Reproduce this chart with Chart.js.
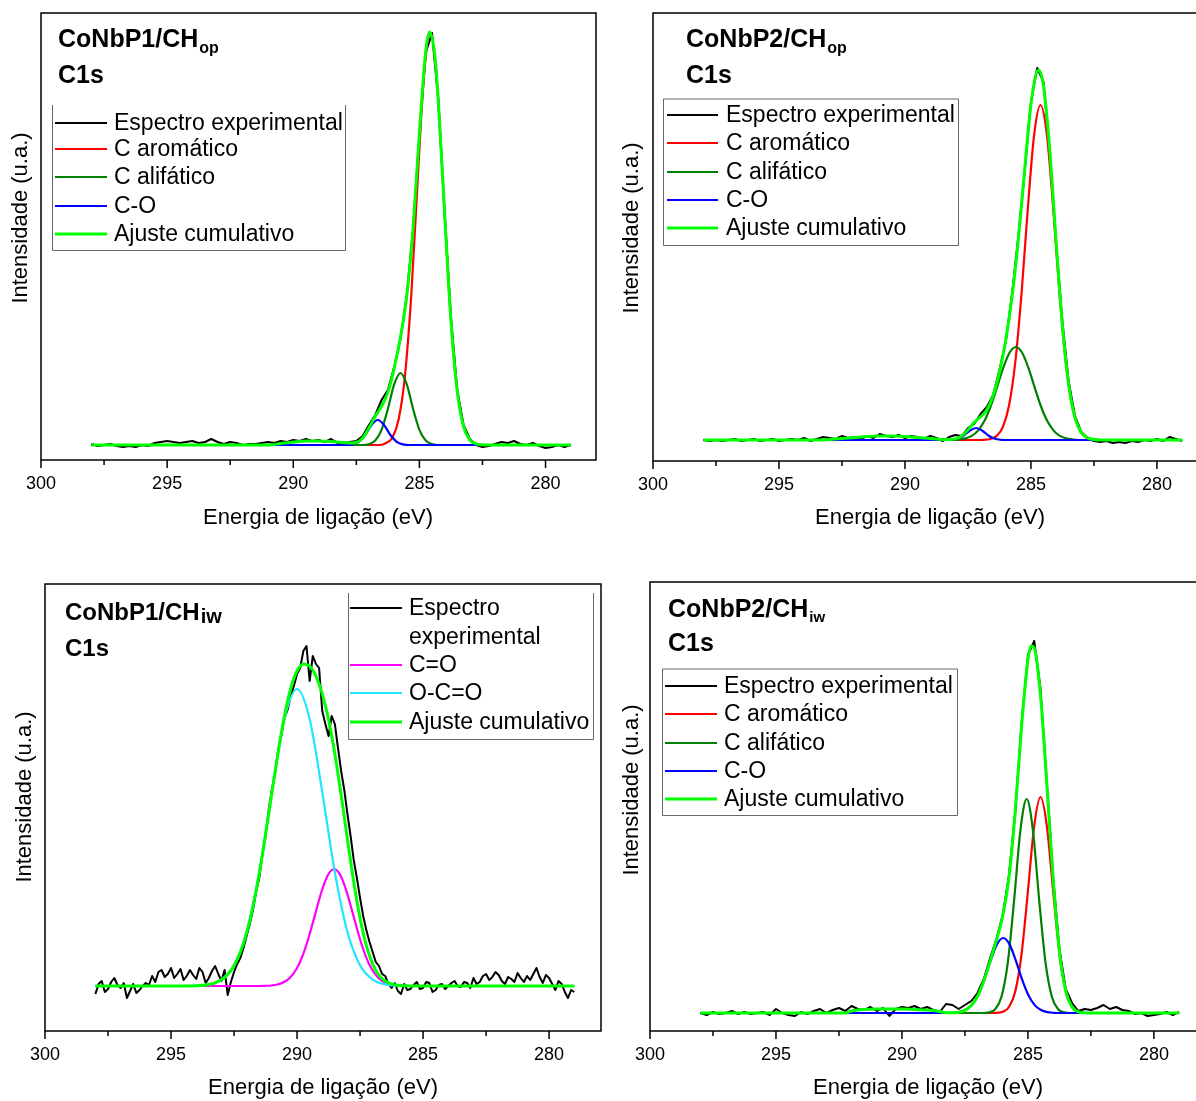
<!DOCTYPE html>
<html lang="pt">
<head>
<meta charset="utf-8">
<title>C1s XPS</title>
<script src="https://cdn.jsdelivr.net/npm/chart.js@4.4.1/dist/chart.umd.min.js"></script>
<style>
  html, body { margin: 0; padding: 0; background: #fff; }
  body { width: 1196px; height: 1101px; position: relative; overflow: hidden; }
  canvas { position: absolute; }
</style>
</head>
<body>
<canvas id="p1" width="600" height="545" style="left:0px;top:0px"></canvas>
<canvas id="p2" width="600" height="545" style="left:610px;top:0px"></canvas>
<canvas id="p3" width="610" height="541" style="left:0px;top:560px"></canvas>
<canvas id="p4" width="600" height="541" style="left:610px;top:560px"></canvas>
<script>
// binding energy grid of the measured spectra (eV)
const energy = [298, 297.75, 297.5, 297.25, 297, 296.75, 296.5, 296.25, 296, 295.75, 295.5, 295.25, 295, 294.75, 294.5, 294.25,
  294, 293.75, 293.5, 293.25, 293, 292.75, 292.5, 292.25, 292, 291.75, 291.5, 291.25, 291, 290.75, 290.5, 290.25,
  290, 289.75, 289.5, 289.25, 289, 288.75, 288.5, 288.25, 288, 287.75, 287.5, 287.25, 287, 286.75, 286.5, 286.25,
  286, 285.75, 285.5, 285.25, 285, 284.75, 284.5, 284.25, 284, 283.75, 283.5, 283.25, 283, 282.75, 282.5, 282.25,
  282, 281.75, 281.5, 281.25, 281, 280.75, 280.5, 280.25, 280, 279.75, 279.5, 279.25, 279];

// finer grid for the noisier CHiw spectrum
const energyFine = [298, 297.875, 297.75, 297.625, 297.5, 297.375, 297.25, 297.125, 297, 296.875, 296.75, 296.625, 296.5, 296.375, 296.25, 296.125,
  296, 295.875, 295.75, 295.625, 295.5, 295.375, 295.25, 295.125, 295, 294.875, 294.75, 294.625, 294.5, 294.375, 294.25, 294.125,
  294, 293.875, 293.75, 293.625, 293.5, 293.375, 293.25, 293.125, 293, 292.875, 292.75, 292.625, 292.5, 292.375, 292.25, 292.125,
  292, 291.875, 291.75, 291.625, 291.5, 291.375, 291.25, 291.125, 291, 290.875, 290.75, 290.625, 290.5, 290.375, 290.25, 290.125,
  290, 289.875, 289.75, 289.625, 289.5, 289.375, 289.25, 289.125, 289, 288.875, 288.75, 288.625, 288.5, 288.375, 288.25, 288.125,
  288, 287.875, 287.75, 287.625, 287.5, 287.375, 287.25, 287.125, 287, 286.875, 286.75, 286.625, 286.5, 286.375, 286.25, 286.125,
  286, 285.875, 285.75, 285.625, 285.5, 285.375, 285.25, 285.125, 285, 284.875, 284.75, 284.625, 284.5, 284.375, 284.25, 284.125,
  284, 283.875, 283.75, 283.625, 283.5, 283.375, 283.25, 283.125, 283, 282.875, 282.75, 282.625, 282.5, 282.375, 282.25, 282.125,
  282, 281.875, 281.75, 281.625, 281.5, 281.375, 281.25, 281.125, 281, 280.875, 280.75, 280.625, 280.5, 280.375, 280.25, 280.125,
  280, 279.875, 279.75, 279.625, 279.5, 279.375, 279.25, 279.125, 279];

const xTicks = [280, 282.5, 285, 287.5, 290, 292.5, 295, 297.5, 300];

// CoNbP1/CHop
const p1Exp = [1, -1, 0, 1, -1, -2, -1, -2, 0, -1, 2, 3, 4, 3, 2, 3,
  4, 2, 3, 6, 3, 1, 3, 2, 0, 1, 1, 2, 3, 2, 4, 3,
  5, 4, 6, 4, 5, 3, 6, 2, 1, 3, 4, 9, 20, 30, 45, 55,
  78, 106, 150, 216, 310, 392, 412, 345, 232, 128, 55, 20, 6, 0, -2, -1,
  1, 3, 2, 4, 1, 0, 2, -1, -3, -2, 0, -2, 0];
const p1Arom = [[298, 0], [286.57, 0], [286.32, 2], [286.07, 7.5], [285.82, 26], [285.57, 70], [285.32, 151], [285.07, 264], [284.82, 369],
  [284.57, 412], [284.32, 369], [284.07, 264], [283.82, 151], [283.57, 70], [283.32, 26], [283.07, 7.5], [282.82, 2], [282.57, 0], [279, 0]];
const p1Alif = [[298, 0], [287.25, 0], [287, 0.9], [286.75, 4.5], [286.5, 15.2], [286.25, 36], [286, 60.6], [285.75, 72],
  [285.5, 60.6], [285.25, 36], [285, 15.2], [284.75, 4.5], [284.5, 0.9], [284.25, 0], [279, 0]];
const p1CO = [[298, 0], [287.9, 0], [287.65, 0.6], [287.4, 3.2], [287.15, 10], [286.9, 19.9], [286.65, 25],
  [286.4, 19.9], [286.15, 10], [285.9, 3.2], [285.65, 0.6], [285.4, 0], [279, 0]];
const p1Sum = [[298, 0], [291, 0], [290.5, 1.5], [290, 3], [289.5, 4], [289, 4], [288.5, 3.5], [288, 2.5], [287.75, 2], [287.5, 2.5],
  [287.25, 7], [287, 17], [286.75, 28.7], [286.5, 38.7], [286.25, 52.6], [286, 76.7], [285.75, 107.9], [285.5, 149.2], [285.25, 217],
  [285, 311.7], [284.75, 393.5], [284.6, 413], [284.4, 392], [284.25, 343.4], [284, 231], [283.75, 124.4], [283.5, 53.6], [283.25, 18.5],
  [283, 5.1], [282.75, 1.1], [282.5, 0.2], [282.25, 0], [279, 0]];

// CoNbP2/CHop
const p2Exp = [0, -1, 0, -1, 0, 1, -1, 0, 1, -1, 0, 1, -1, 0, 1, 0,
  2, -1, 1, 3, 2, 1, 4, 2, 3, 1, 4, 2, 6, 4, 3, 5,
  2, 4, 3, 1, 4, 2, -1, 3, 5, 4, 12, 16, 26, 33, 45, 70,
  98, 146, 204, 268, 338, 372, 358, 285, 196, 118, 58, 24, 8, 2, -1, -2,
  -1, -3, -2, -3, -1, -2, 0, -1, 1, -1, 3, 1, -1];
const p2Arom = [[298, 0], [287.12, 0], [286.87, 0.2], [286.62, 1], [286.37, 3.9], [286.12, 12.7], [285.87, 34.5], [285.62, 78.1],
  [285.37, 147.7], [285.12, 232.8], [284.87, 305.8], [284.62, 335], [284.37, 305.8], [284.12, 232.8], [283.87, 147.7], [283.62, 78.1],
  [283.37, 34.5], [283.12, 12.7], [282.87, 3.9], [282.62, 1], [282.37, 0.2], [282.12, 0], [279, 0]];
const p2Alif = [[298, 0], [288.1, 0], [287.85, 0.5], [287.6, 1.6], [287.35, 4.1], [287.1, 9.4], [286.85, 18.9], [286.6, 33.5],
  [286.35, 52.4], [286.1, 72.1], [285.85, 87.2], [285.6, 93], [285.35, 87.2], [285.1, 72.1], [284.85, 52.4], [284.6, 33.5],
  [284.35, 18.9], [284.1, 9.4], [283.85, 4.1], [283.6, 1.6], [283.35, 0.5], [283.1, 0], [279, 0]];
const p2CO = [[298, 0], [288.43, 0], [288.18, 0.2], [287.93, 1.2], [287.68, 4.3], [287.43, 9.3], [287.18, 12],
  [286.93, 9.3], [286.68, 4.3], [286.43, 1.2], [286.18, 0.2], [285.93, 0], [279, 0]];
const p2Sum = [[298, 0], [293.5, 0], [293, 0.5], [292.5, 1.5], [292, 2.5], [291.5, 3.5], [291, 4], [290.5, 4], [290, 3.5], [289.5, 2.5],
  [289, 1.5], [288.5, 0.6], [288.25, 0.5], [288, 1.1], [287.75, 4], [287.5, 10.2], [287.25, 17.6], [287, 23.2], [286.75, 30.2],
  [286.5, 44.5], [286.25, 67.8], [286, 100], [285.75, 143.2], [285.5, 200.6], [285.25, 270], [285, 335.8], [284.7, 370], [284.5, 354],
  [284.25, 289], [284, 198.2], [283.75, 114], [283.5, 55], [283.25, 22.1], [283, 7.4], [282.75, 2.1], [282.5, 0.5], [282.25, 0], [279, 0]];

// CoNbP1/CHiw (on energyFine)
const p3Exp = [-8, 2, 5, -6, -3, 4, 8, 1, -2, 3, -12, -5, 2, -7, -4, 0,
  3, 1, 10, 4, 14, 16, 9, 12, 18, 8, 12, 17, 6, 10, 16, 11,
  7, 18, 14, 3, 8, 15, 20, 12, 5, 16, -9, 4, 14, 22, 28, 38,
  50, 62, 76, 94, 108, 131, 150, 176, 196, 212, 236, 250, 268, 276, 290, 300,
  312, 318, 335, 340, 305, 330, 322, 318, 275, 262, 250, 270, 262, 238, 215, 196,
  172, 150, 126, 108, 88, 70, 56, 44, 34, 24, 20, 12, 10, 2, -2, 3,
  -5, -8, 2, -4, -3, 1, 4, -3, -2, 4, 3, -6, -4, 1, 2, -3,
  0, 3, 5, 0, -1, 4, 3, -2, 8, 2, 4, 10, 12, 6, 9, 14,
  11, 5, 2, 9, 7, 4, 13, 8, 4, 10, 6, 12, 18, 9, 3, 11,
  8, 2, -4, 5, 2, -6, -12, -4, -6];
const p3CO = [[298, 0], [291.53, 0], [291.28, 0.2], [291.03, 0.5], [290.78, 1.5], [290.53, 3.7], [290.28, 8.2], [290.03, 16.7],
  [289.78, 30.2], [289.53, 49.2], [289.28, 71.9], [289.03, 94.2], [288.78, 110.8], [288.53, 117], [288.28, 110.8], [288.03, 94.2],
  [287.78, 71.9], [287.53, 49.2], [287.28, 30.2], [287.03, 16.7], [286.78, 8.2], [286.53, 3.7], [286.28, 1.5], [286.03, 0.5],
  [285.78, 0.2], [285.53, 0], [279, 0]];
const p3OCO = [[298, 0], [294.5, 0], [294, 0.3], [293.5, 1.6], [293, 6.4], [292.5, 20.7], [292, 54], [291.5, 113.8], [291, 194],
  [290.5, 267], [290, 297], [289.5, 267], [289, 194], [288.5, 113.8], [288, 54], [287.5, 20.7], [287, 6.4], [286.5, 1.6], [286, 0.3],
  [285.5, 0], [279, 0]];
const p3Sum = [[298, 0], [295, 0], [294, 0.3], [293.75, 0.7], [293.5, 1.5], [293.25, 3.2], [293, 6.2], [292.75, 11.6], [292.5, 20.3],
  [292.25, 33.7], [292, 53.1], [291.75, 79.3], [291.5, 112.5], [291.25, 151.2], [291, 192.8], [290.75, 233.8], [290.5, 269.9],
  [290.25, 297.6], [290, 315], [289.75, 322.1], [289.5, 320], [289.25, 309.9], [289, 292.2], [288.75, 266.4], [288.5, 232.3],
  [288.25, 191], [288, 146.6], [287.75, 104], [287.5, 67.8], [287.25, 40.4], [287, 22], [286.75, 10.9], [286.5, 5], [286.25, 2.1],
  [286, 0.8], [285.75, 0.3], [285.5, 0.1], [285, 0], [279, 0]];

// CoNbP2/CHiw
const p4Exp = [0, -2, 1, -1, 0, 2, -1, 1, -1, 0, 1, -2, 4, 0, -2, -3,
  1, -1, 2, 4, 0, 3, 5, 2, 7, 4, 3, 6, 2, 5, -3, 4,
  6, 5, 7, 4, 6, 3, 1, 9, 8, 4, 8, 12, 20, 34, 55, 74,
  98, 138, 202, 290, 358, 372, 324, 230, 136, 64, 24, 10, 2, 4, 3, 5,
  8, 4, 6, 3, 2, -1, 0, -3, -2, -1, 1, -2, 1];
const p4Arom = [[298, 0], [286.5, 0], [286.25, 0.2], [286, 1.2], [285.75, 6], [285.5, 21.8], [285.25, 59.4], [285, 121.9], [284.75, 187.2],
  [284.5, 216], [284.25, 187.2], [284, 121.9], [283.75, 59.4], [283.5, 21.8], [283.25, 6], [283, 1.2], [282.75, 0.2], [282.5, 0], [279, 0]];
const p4Alif = [[298, 0], [286.8, 0], [286.55, 0.6], [286.3, 3.8], [286.05, 16.2], [285.8, 50.1], [285.55, 112.1], [285.3, 182.2],
  [285.05, 214], [284.8, 182.2], [284.55, 112.1], [284.3, 50.1], [284.05, 16.2], [283.8, 3.8], [283.55, 0.6], [283.3, 0], [279, 0]];
const p4CO = [[298, 0], [288.23, 0], [287.98, 0.2], [287.73, 0.9], [287.48, 3], [287.23, 7.9], [286.98, 17.8], [286.73, 33.4],
  [286.48, 52.4], [286.23, 68.6], [285.98, 75], [285.73, 68.6], [285.48, 52.4], [285.23, 33.4], [284.98, 17.8], [284.73, 7.9],
  [284.48, 3], [284.23, 0.9], [283.98, 0.2], [283.73, 0], [279, 0]];
const p4Sum = [[298, 0], [292.25, 0], [292, 2], [291.5, 3.5], [291, 4], [290.5, 4], [290, 4], [289.5, 3.5], [289, 3], [288.5, 1.5],
  [288.25, 0.3], [288, 0.2], [287.75, 0.8], [287.5, 2.7], [287.25, 7.4], [287, 16.8], [286.75, 32.1], [286.5, 51.8], [286.25, 72.9],
  [286, 97], [285.75, 136], [285.5, 202.6], [285.25, 287.3], [285, 353.3], [284.87, 367.3], [284.75, 365.3], [284.5, 317.3],
  [284.25, 229.1], [284, 134.5], [283.75, 62.2], [283.5, 22.2], [283.25, 6], [283, 1.2], [282.75, 0.2], [282.5, 0], [279, 0]];

const FONT = '"Liberation Sans", Arial, sans-serif';
Chart.defaults.font.family = FONT;

const expPts = (grid, vals) => grid.map((e, i) => ({ x: e, y: vals[i] }));
const fitPts = pairs => pairs.map(p => ({ x: p[0], y: p[1] }));

function line(label, data, color, width, smooth) {
    return {
        label: label,
        data: data,
        borderColor: color,
        backgroundColor: color,
        borderWidth: width,
        borderJoinStyle: "round",
        pointRadius: 0,
        fill: false,
        tension: 0,
        cubicInterpolationMode: smooth ? "monotone" : "default",
    };
}

// frame, tick marks, titles and legend box
const decor = {
    id: "decor",
    afterDraw(chart, args, o) {
        const { ctx, chartArea: a } = chart;
        const x = chart.scales.x;
        ctx.save();
        ctx.strokeStyle = "#000";
        ctx.lineWidth = 1.5;
        ctx.strokeRect(a.left, a.top, a.right - a.left, a.bottom - a.top);
        xTicks.forEach(v => {
            if (v < x.min || v > x.max) return;
            const px = x.getPixelForValue(v);
            ctx.beginPath();
            ctx.moveTo(px, a.bottom);
            ctx.lineTo(px, a.bottom + (v % 5 === 0 ? 8 : 5));
            ctx.stroke();
        });

        ctx.fillStyle = "#000";
        ctx.textAlign = "center";
        ctx.textBaseline = "middle";
        ctx.font = "22px " + FONT;
        ctx.fillText("Energia de ligação (eV)", o.xTitle[0], o.xTitle[1]);
        ctx.save();
        ctx.translate(o.yTitle[0], o.yTitle[1]);
        ctx.rotate(-Math.PI / 2);
        ctx.fillText("Intensidade (u.a.)", 0, 0);
        ctx.restore();

        // sample name with subscript, then C1s
        ctx.textAlign = "left";
        ctx.textBaseline = "alphabetic";
        ctx.font = "bold " + o.name.size + "px " + FONT;
        ctx.fillText(o.name.text, o.name.x, o.name.y);
        const w = ctx.measureText(o.name.text).width;
        ctx.font = "bold " + o.name.subSize + "px " + FONT;
        ctx.fillText(o.name.sub, o.name.x + w + 1, o.name.y + o.name.subDy);
        ctx.font = "bold " + o.name.size + "px " + FONT;
        ctx.fillText("C1s", o.name.x, o.name.c1sY);

        // legend
        const L = o.legend;
        ctx.strokeStyle = "#666";
        ctx.lineWidth = 1;
        ctx.beginPath();
        ctx.moveTo(L.left + 0.5, L.top);
        ctx.lineTo(L.left + 0.5, L.bottom + 0.5);
        ctx.lineTo(L.right + 0.5, L.bottom + 0.5);
        ctx.lineTo(L.right + 0.5, L.top);
        if (L.topLine) ctx.lineTo(L.left + 0.5, L.top);
        ctx.stroke();
        ctx.font = "23px " + FONT;
        ctx.textBaseline = "middle";
        L.rows.forEach(r => {
            if (r.ds !== undefined) {
                const ds = chart.data.datasets[r.ds];
                ctx.strokeStyle = ds.borderColor;
                ctx.lineWidth = ds.borderWidth;
                ctx.beginPath();
                ctx.moveTo(L.lineX[0], r.y);
                ctx.lineTo(L.lineX[1], r.y);
                ctx.stroke();
            }
            const text = r.text !== undefined ? r.text : chart.data.datasets[r.ds].label;
            ctx.fillText(text, L.textX, r.y + 1);
        });
        ctx.restore();
    },
};

function makePanel(id, cfg) {
    const ctx = document.getElementById(id);
    // first dataset at the back, cumulative fit on top
    cfg.datasets.forEach((d, i) => { d.order = cfg.datasets.length - i; });
    return new Chart(ctx, {
        type: "line",
        data: { datasets: cfg.datasets },
        options: {
            responsive: false,
            animation: false,
            devicePixelRatio: 1,
            layout: { padding: cfg.pad },
            plugins: {
                legend: { display: false },
                tooltip: { enabled: false },
                decor: cfg.decor,
            },
            scales: {
                x: {
                    type: "linear",
                    reverse: true,
                    min: cfg.xMin,
                    max: 300,
                    grid: { display: false, tickLength: 8 },
                    border: { display: false },
                    ticks: {
                        stepSize: 5,
                        includeBounds: false,
                        autoSkip: false,
                        maxRotation: 0,
                        padding: 5,
                        color: "#000",
                        font: { size: 18 },
                    },
                    afterFit: s => { s.height = cfg.xAxisH; },
                },
                y: { display: false, min: cfg.yMin, max: cfg.yMax },
            },
        },
        plugins: [decor],
    });
}

const BLACK = "#000000", RED = "#ff0000", DKGREEN = "#008000", BLUE = "#0000ff",
    LIME = "#00ff00", MAGENTA = "#ff00ff", CYAN = "#1ee6ff";

makePanel("p1", {
    pad: { left: 41, top: 13, right: 4, bottom: 0 },
    xAxisH: 85, xMin: 278, yMin: -15, yMax: 432,
    datasets: [
        line("Espectro experimental", expPts(energy, p1Exp), BLACK, 2, false),
        line("C aromático", fitPts(p1Arom), RED, 2.2, true),
        line("C alifático", fitPts(p1Alif), DKGREEN, 2.2, true),
        line("C-O", fitPts(p1CO), BLUE, 2.2, true),
        line("Ajuste cumulativo", fitPts(p1Sum), LIME, 3, true),
    ],
    decor: {
        xTitle: [318, 518], yTitle: [21, 218],
        name: { text: "CoNbP1/CH", sub: "op", x: 58, y: 47, size: 25, subSize: 16, subDy: 6, c1sY: 83 },
        legend: {
            left: 52, top: 105, right: 345, bottom: 250, topLine: false,
            lineX: [55, 107], textX: 114,
            rows: [{ ds: 0, y: 123 }, { ds: 1, y: 149 }, { ds: 2, y: 177 }, { ds: 3, y: 206 }, { ds: 4, y: 234 }],
        },
    },
});

makePanel("p2", {
    pad: { left: 43, top: 13, right: 11, bottom: 0 },
    xAxisH: 84, xMin: 278.33, yMin: -21, yMax: 427,
    datasets: [
        line("Espectro experimental", expPts(energy, p2Exp), BLACK, 2, false),
        line("C aromático", fitPts(p2Arom), RED, 2.2, true),
        line("C alifático", fitPts(p2Alif), DKGREEN, 2.2, true),
        line("C-O", fitPts(p2CO), BLUE, 2.2, true),
        line("Ajuste cumulativo", fitPts(p2Sum), LIME, 3, true),
    ],
    decor: {
        xTitle: [320, 518], yTitle: [22, 228],
        name: { text: "CoNbP2/CH", sub: "op", x: 76, y: 47, size: 25, subSize: 16, subDy: 6, c1sY: 83 },
        legend: {
            left: 53, top: 99, right: 348, bottom: 245, topLine: true,
            lineX: [57, 108], textX: 116,
            rows: [{ ds: 0, y: 115 }, { ds: 1, y: 143 }, { ds: 2, y: 172 }, { ds: 3, y: 200 }, { ds: 4, y: 228 }],
        },
    },
});

makePanel("p3", {
    pad: { left: 45, top: 24, right: 9, bottom: 0 },
    xAxisH: 70, xMin: 277.94, yMin: -45, yMax: 402,
    datasets: [
        line("Espectro experimental", expPts(energyFine, p3Exp), BLACK, 2, false),
        line("C=O", fitPts(p3CO), MAGENTA, 2.2, true),
        line("O-C=O", fitPts(p3OCO), CYAN, 2.2, true),
        line("Ajuste cumulativo", fitPts(p3Sum), LIME, 3, true),
    ],
    decor: {
        xTitle: [323, 528], yTitle: [25, 237],
        name: { text: "CoNbP1/CH", sub: "iw", x: 65, y: 60, size: 24, subSize: 20, subDy: 3, c1sY: 96 },
        legend: {
            left: 348, top: 33, right: 593, bottom: 179, topLine: false,
            lineX: [350, 402], textX: 409,
            rows: [{ ds: 0, y: 48, text: "Espectro" }, { y: 77, text: "experimental" }, { ds: 1, y: 105 }, { ds: 2, y: 133 }, { ds: 3, y: 162 }],
        },
    },
});

makePanel("p4", {
    pad: { left: 40, top: 22, right: 11, bottom: 0 },
    xAxisH: 70, xMin: 278.21, yMin: -18, yMax: 431,
    datasets: [
        line("Espectro experimental", expPts(energy, p4Exp), BLACK, 2, false),
        line("C aromático", fitPts(p4Arom), RED, 2.2, true),
        line("C alifático", fitPts(p4Alif), DKGREEN, 2.2, true),
        line("C-O", fitPts(p4CO), BLUE, 2.2, true),
        line("Ajuste cumulativo", fitPts(p4Sum), LIME, 3, true),
    ],
    decor: {
        xTitle: [318, 528], yTitle: [22, 230],
        name: { text: "CoNbP2/CH", sub: "iw", x: 58, y: 57, size: 25, subSize: 15, subDy: 5, c1sY: 91 },
        legend: {
            left: 52, top: 109, right: 347, bottom: 255, topLine: true,
            lineX: [55, 107], textX: 114,
            rows: [{ ds: 0, y: 126 }, { ds: 1, y: 154 }, { ds: 2, y: 183 }, { ds: 3, y: 211 }, { ds: 4, y: 239 }],
        },
    },
});
</script>
</body>
</html>
